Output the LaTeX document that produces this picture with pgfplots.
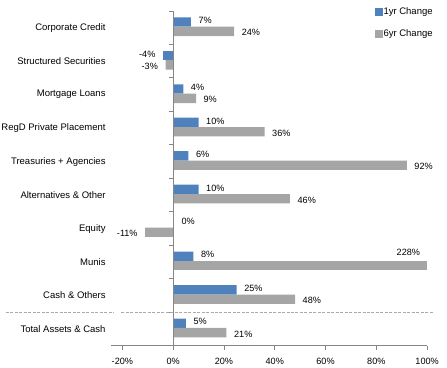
\documentclass[border=0pt]{standalone}
\usepackage{pgfplots}
\pgfplotsset{compat=1.18}
\usepackage{fontspec}
\setmainfont{Liberation Sans}
\definecolor{cblue}{RGB}{79,129,189}
\definecolor{cgray}{RGB}{165,165,165}
\definecolor{axgray}{RGB}{134,134,134}
\definecolor{dashgray}{RGB}{170,170,170}
\pgfplotsset{
  lblpos/.style={nodes near coords, point meta=explicit symbolic,
    nodes near coords style={font=\fontsize{9.2}{11}\selectfont, text=black, inner xsep=7.5bp, inner ysep=0pt, anchor=west}},
  lblneg/.style={nodes near coords, point meta=explicit symbolic,
    nodes near coords style={font=\fontsize{9.2}{11}\selectfont, text=black, inner xsep=7.5bp, inner ysep=0pt, anchor=east}},
}
\begin{document}
\begin{tikzpicture}
\begin{axis}[
  at={(0,0)}, anchor=south west,
  scale only axis, width=318bp, height=337bp,
  xmin=-24.4, xmax=100, ymin=-0.5, ymax=9.5,
  clip=false,
  axis x line*=bottom, axis y line*=left,
  x axis line style={draw=axgray, line width=0.8bp},
  y axis line style={draw=none},
  xtick={-20,0,20,40,60,80,100},
  xticklabels={-20\%,0\%,20\%,40\%,60\%,80\%,100\%},
  xtick style={draw=axgray, line width=0.8bp},
  tick align=outside, major tick length=4bp,
  ytick={0,...,9},
  yticklabels={Total Assets \& Cash, Cash \& Others, Munis, Equity, Alternatives \& Other, Treasuries + Agencies, RegD Private Placement, Mortgage Loans, Structured Securities, Corporate Credit},
  ytick style={draw=none},
  yticklabel style={font=\fontsize{9.6}{11}\selectfont, inner xsep=1.5bp},
  xticklabel style={font=\fontsize{9.2}{11}\selectfont, yshift=-5bp},
  xbar, bar width=0.28,
  legend style={at={(rel axis cs:0.833,1.012)}, anchor=north west, draw=none, fill=none, inner sep=0pt, row sep=11bp, font=\fontsize{9.6}{11}\selectfont, nodes={inner sep=1bp}},
  legend cell align=left,
  legend image code/.code={\fill[#1] (0bp,-4bp) rectangle (8bp,4bp);},
]
% 1yr Change
\addplot[fill=cblue, draw=none, bar shift=0.17, lblpos, nodes near coords style={yshift=1.5bp}]
  coordinates {(5,0)[5\%] (25,1)[25\%] (8,2)[8\%] (0.3,3)[0\%] (10,4)[10\%] (6,5)[6\%] (10,6)[10\%] (4,7)[4\%] (7,9)[7\%]};
\addlegendentry{1yr Change}
% 6yr Change
\addplot[fill=cgray, draw=none, bar shift=-0.11, lblpos, nodes near coords style={yshift=-1.5bp}]
  coordinates {(21,0)[21\%] (48,1)[48\%] (46,4)[46\%] (92,5)[92\%] (36,6)[36\%] (9,7)[9\%] (24,9)[24\%]};
\addlegendentry{6yr Change}
% negative values
\addplot[fill=cblue, draw=none, bar shift=0.17, forget plot, lblneg, nodes near coords style={yshift=1.5bp}]
  coordinates {(-4,8)[-4\%]};
\addplot[fill=cgray, draw=none, bar shift=-0.11, forget plot, lblneg, nodes near coords style={yshift=-1.5bp}]
  coordinates {(-11,3)[-11\%] (-3,8)[-3\%]};
% Munis 6yr (228%), cut at the axis end
\addplot[fill=cgray, draw=none, bar shift=-0.11, forget plot, restrict x to domain*=-24.4:100]
  coordinates {(228,2)};
\node[anchor=east, inner sep=0pt, font=\fontsize{9.2}{11}\selectfont, xshift=-7bp] at (axis cs:100,2.28) {228\%};
\draw[axgray, line width=0.8bp] (axis cs:0,-0.5) -- (axis cs:0,9.5);
\pgfplotsinvokeforeach{-0.5,0.5,1.5,2.5,3.5,4.5,5.5,6.5,7.5,8.5,9.5}{
  \draw[axgray, line width=0.8bp] (axis cs:0,#1) -- ([xshift=-4bp]axis cs:0,#1);
}
\draw[dashgray, line width=1bp, dash pattern=on 3bp off 1.5bp] ([xshift=-106bp]axis cs:-24.4,0.5) -- ([xshift=3bp]axis cs:-24.4,0.5);
\draw[dashgray, line width=1bp, dash pattern=on 3bp off 1.5bp] ([xshift=10bp]axis cs:-24.4,0.5) -- ([xshift=6bp]axis cs:100,0.5);
\end{axis}
\path (-109bp,-21bp) rectangle (338bp,348bp);
\end{tikzpicture}
\end{document}
